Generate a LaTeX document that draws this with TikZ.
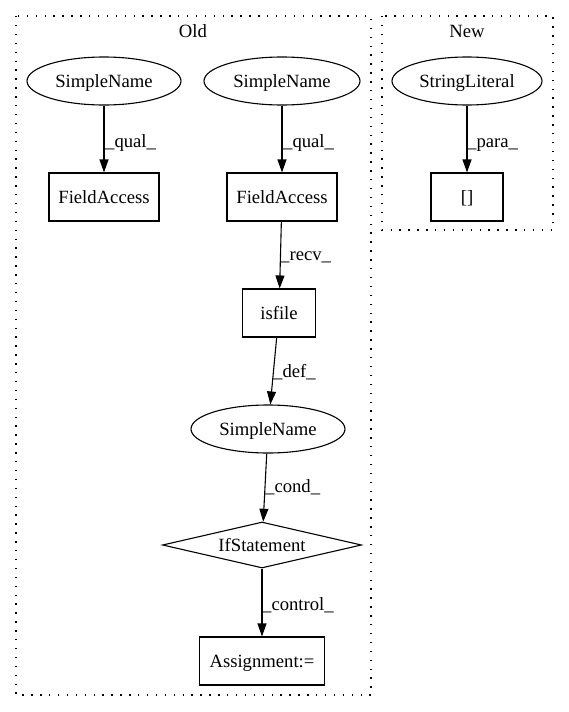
\documentclass[tikz,border=0pt]{standalone}
\usepackage{fontspec}
\setmainfont{Liberation Serif}
\usetikzlibrary{shapes.geometric,arrows.meta}
\begin{document}
\begin{tikzpicture}[x=1pt,y=-1pt,
  every node/.style={font=\fontsize{18.67pt}{22pt}\selectfont, inner sep=0pt, text height=16.6pt, text depth=4pt},
  ell/.style={draw, ellipse, line width=1.1pt, minimum height=48pt},
  box/.style={draw, rectangle, line width=1.1pt, minimum height=48pt},
  dia/.style={draw, diamond, line width=1.1pt, minimum width=199pt, minimum height=46pt, aspect=4.33},
  edge/.style={line width=1.1pt, -{Triangle[length=13pt,width=9pt]}},
  lbl/.style={anchor=base west, text height=, text depth=},
  clus/.style={line width=1.1pt, dash pattern=on 1.4pt off 7.5pt},
  clab/.style={anchor=base, text height=, text depth=}]
\useasboundingbox (0,0) rectangle (568,712);
% clusters
\draw[clus] (16,16) rectangle (371,695);
\draw[clus] (382,16) rectangle (553,230);
\node[clab] (old) at (193,37) {Old};
\node[clab] (new) at (467,37) {New};
% nodes
\node[ell, minimum width=154pt] (sn1) at (104,81) {SimpleName};
\node[box, minimum width=110pt] (fa1) at (104,197) {FieldAccess};
\node[ell, minimum width=156pt] (sn2) at (282,81) {SimpleName};
\node[box, minimum width=110pt] (fa2) at (282,197) {FieldAccess};
\node[box, minimum width=73pt] (isf) at (279,313) {isfile};
\node[ell, minimum width=154pt] (sn3) at (268,429) {SimpleName};
\node[dia] (ifs) at (262,545) {IfStatement};
\node[box, minimum width=125pt] (asg) at (262,661) {Assignment:=};
\node[ell, minimum width=150pt] (sl) at (467,81) {StringLiteral};
\node[box, minimum width=72pt] (br) at (467,197) {[]};
% edges
\draw[edge] (sn1) -- (fa1);
\draw[edge] (sn2) -- (fa2);
\draw[edge] (fa2) -- (isf);
\draw[edge] (isf) -- (sn3);
\draw[edge] (sn3) -- (ifs);
\draw[edge] (ifs) -- (asg);
\draw[edge] (sl) -- (br);
% edge labels
\node[lbl] (l1) at (105,147) {\_qual\_};
\node[lbl] (l2) at (283,147) {\_qual\_};
\node[lbl] (l3) at (467,147) {\_para\_};
\node[lbl] (l4) at (280,260) {\_recv\_};
\node[lbl] (l5) at (273,377) {\_def\_};
\node[lbl] (l6) at (265,492) {\_cond\_};
\node[lbl] (l7) at (262,610) {\_control\_};
\end{tikzpicture}
\end{document}
